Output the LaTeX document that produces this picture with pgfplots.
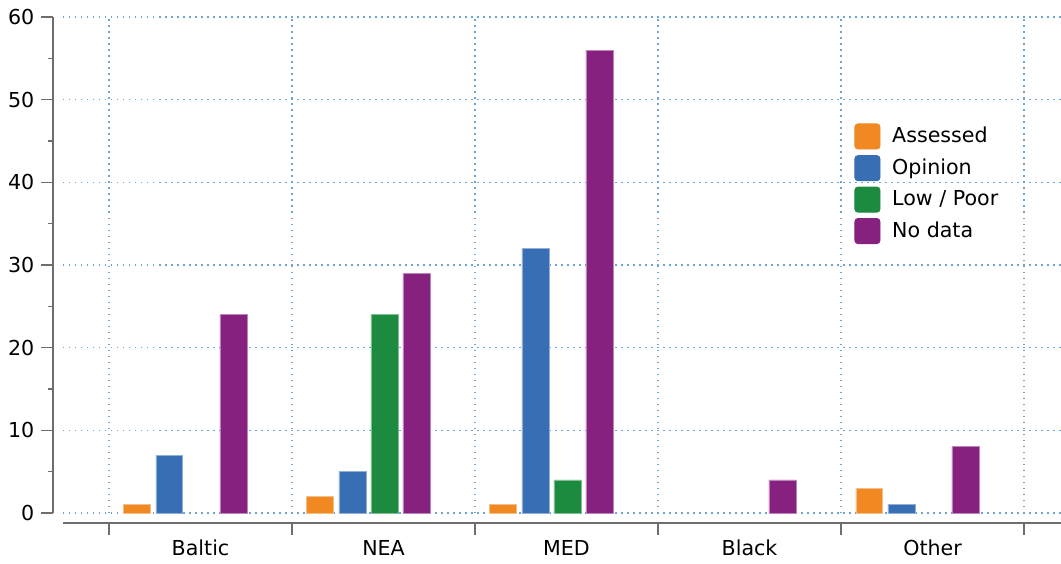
\documentclass[border=0pt]{standalone}
\usepackage{pgfplots}
\pgfplotsset{compat=1.18}
\usepackage{fontspec}
\setmainfont{DejaVu Sans}
\definecolor{cA}{RGB}{240,137,34}
\definecolor{cO}{RGB}{56,110,180}
\definecolor{cL}{RGB}{28,139,64}
\definecolor{cN}{RGB}{135,33,128}
\definecolor{gridblue}{RGB}{110,165,215}
\definecolor{axgray}{RGB}{110,110,110}
\pgfplotsset{
  mybar/.style={ybar, bar width=0.1475, fill=#1, draw=#1!55!white, line width=0.4pt,
    legend image code/.code={\fill[#1, rounded corners=1.6pt] (0pt,-6.3pt) rectangle (12.6pt,6.3pt); \path (16.5pt,0pt);}},
}
\begin{document}
\fontsize{10.3}{12.4}\selectfont
\begin{tikzpicture}
\begin{axis}[name=ax, scale only axis, width=499pt, height=248pt,
  xmin=-0.7514, xmax=4.702, ymin=0, ymax=60,
  axis x line*=bottom, axis y line*=left,
  axis x line shift=5pt, axis y line shift=5pt,
  x axis line style={draw=axgray, line width=1pt},
  y axis line style={draw=axgray, line width=0.75pt},
  tick align=outside,
  tick style={draw=axgray, line width=0.6pt},
  major tick length=5.75pt, minor tick length=2.5pt,
  xtick={-0.5,0.5,...,4.5}, xticklabels={},
  ytick={0,10,...,60}, minor ytick={5,15,...,55},
  xmajorgrids, ymajorgrids,
  major grid style={draw=gridblue, line width=0.75pt, dash pattern=on 0.75pt off 2.25pt},
  extra x ticks={0,1,2,3,4},
  extra x tick labels={Baltic,NEA,MED,Black,Other},
  extra x tick style={major tick length=0pt, grid=none, xticklabel style={yshift=-5pt}},
  tick label style={font=\fontsize{10.3}{12.4}\selectfont},
  /pgf/number format/assume math mode=true,
  legend style={draw=none, fill=none, at={(rel axis cs:0.7866,0.795)}, anchor=north west,
    font=\fontsize{10.3}{12.4}\selectfont, row sep=2.5pt},
  legend cell align=left,
]
\addplot[mybar=cA, bar shift=-0.345] coordinates {(0,1) (1,2) (2,1) (4,3)};
\addlegendentry{Assessed}
\addplot[mybar=cO, bar shift=-0.17] coordinates {(0,7) (1,5) (2,32) (4,1)};
\addlegendentry{Opinion}
\addplot[mybar=cL, bar shift=0.005] coordinates {(1,24) (2,4)};
\addlegendentry{Low / Poor}
\addplot[mybar=cN, bar shift=0.18] coordinates {(0,24) (1,29) (2,56) (3,4) (4,8)};
\addlegendentry{No data}
\end{axis}
\pgfresetboundingbox
\path[use as bounding box] ([shift={(-31.5pt,-25pt)}]ax.south west) rectangle ([shift={(499pt,256.5pt)}]ax.south west);
\end{tikzpicture}
\end{document}
